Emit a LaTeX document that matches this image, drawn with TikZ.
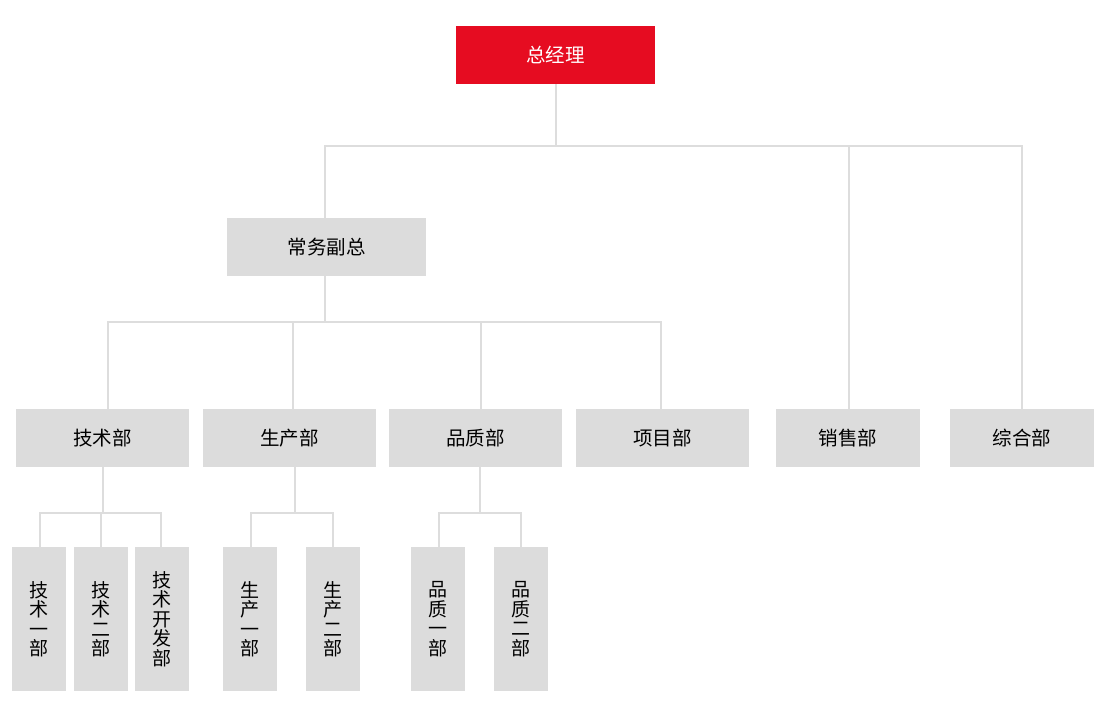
\documentclass[tikz,border=0pt]{standalone}
\usepackage{fontspec}
\setmainfont{Noto Sans CJK SC}
\usetikzlibrary{positioning}
\definecolor{boxgray}{HTML}{DCDCDC}
\definecolor{linegray}{HTML}{DDDDDD}
\definecolor{bossred}{HTML}{E60C21}
\begin{document}
\begin{tikzpicture}[
        x=1pt, y=-1pt,
        dept/.style={rectangle, fill=boxgray, minimum width=173pt, minimum height=58pt,
            inner sep=0pt, outer sep=0pt, font=\fontsize{19.5}{21}\selectfont},
        boss/.style={dept, fill=bossred, text=white, minimum width=199pt},
        sub/.style={dept, minimum width=54pt, minimum height=144pt, align=center,
            font=\fontsize{19}{19.5}\selectfont},
        link/.style={draw=linegray, line width=2pt},
    ]
        \useasboundingbox (0,0) rectangle (1107,710);

        \node[boss] (gm) at (555.5,55) {总经理};
        \node[dept, minimum width=199pt] (fz) at (326.5,247) {常务副总};

        % departments
        \node[dept] (ji) at (102.5,438) {技术部};
        \node[dept] (sc) [right=14pt of ji] {生产部};
        \node[dept] (pz) [right=13pt of sc] {品质部};
        \node[dept] (xm) [right=14pt of pz] {项目部};
        \node[dept, minimum width=144pt] (xs) at (848,438) {销售部};
        \node[dept, minimum width=144pt] (zh) [right=30pt of xs] {综合部};

        % sub departments
        \node[sub] (ji1) at (39,619) {技\\术\\一\\部};
        \node[sub] (ji2) [right=8pt of ji1] {技\\术\\二\\部};
        \node[sub] (jk) [right=7pt of ji2] {技\\术\\开\\发\\部};
        \node[sub] (sc1) at (250,619) {生\\产\\一\\部};
        \node[sub] (sc2) [right=29pt of sc1] {生\\产\\二\\部};
        \node[sub] (pz1) at (438,619) {品\\质\\一\\部};
        \node[sub] (pz2) [right=29pt of pz1] {品\\质\\二\\部};

        \draw[link] (gm.south) -- ++(0,62) -| ([xshift=-1.5pt]fz.north);
        \draw[link] (gm.south) -- ++(0,62) -| ([xshift=1pt]xs.north);
        \draw[link] (gm.south) -- ++(0,62) -| (zh.north);

        \draw[link] ([xshift=-1.5pt]fz.south) -- ++(0,46) -| ([xshift=5.5pt]ji.north);
        \draw[link] ([xshift=-1.5pt]fz.south) -- ++(0,46) -| ([xshift=3.5pt]sc.north);
        \draw[link] ([xshift=-1.5pt]fz.south) -- ++(0,46) -| ([xshift=5.5pt]pz.north);
        \draw[link] ([xshift=-1.5pt]fz.south) -- ++(0,46) -| ([xshift=-1.5pt]xm.north);

        \draw[link] (ji.south) -- ++(0,46) -| ([xshift=1pt]ji1.north);
        \draw[link] (ji.south) -- ++(0,46) -| (ji2.north);
        \draw[link] (ji.south) -- ++(0,46) -| ([xshift=-1pt]jk.north);

        \draw[link] ([xshift=5.5pt]sc.south) -- ++(0,46) -| ([xshift=1pt]sc1.north);
        \draw[link] ([xshift=5.5pt]sc.south) -- ++(0,46) -| (sc2.north);

        \draw[link] ([xshift=4.5pt]pz.south) -- ++(0,46) -| ([xshift=1pt]pz1.north);
        \draw[link] ([xshift=4.5pt]pz.south) -- ++(0,46) -| (pz2.north);
    \end{tikzpicture}
\end{document}
